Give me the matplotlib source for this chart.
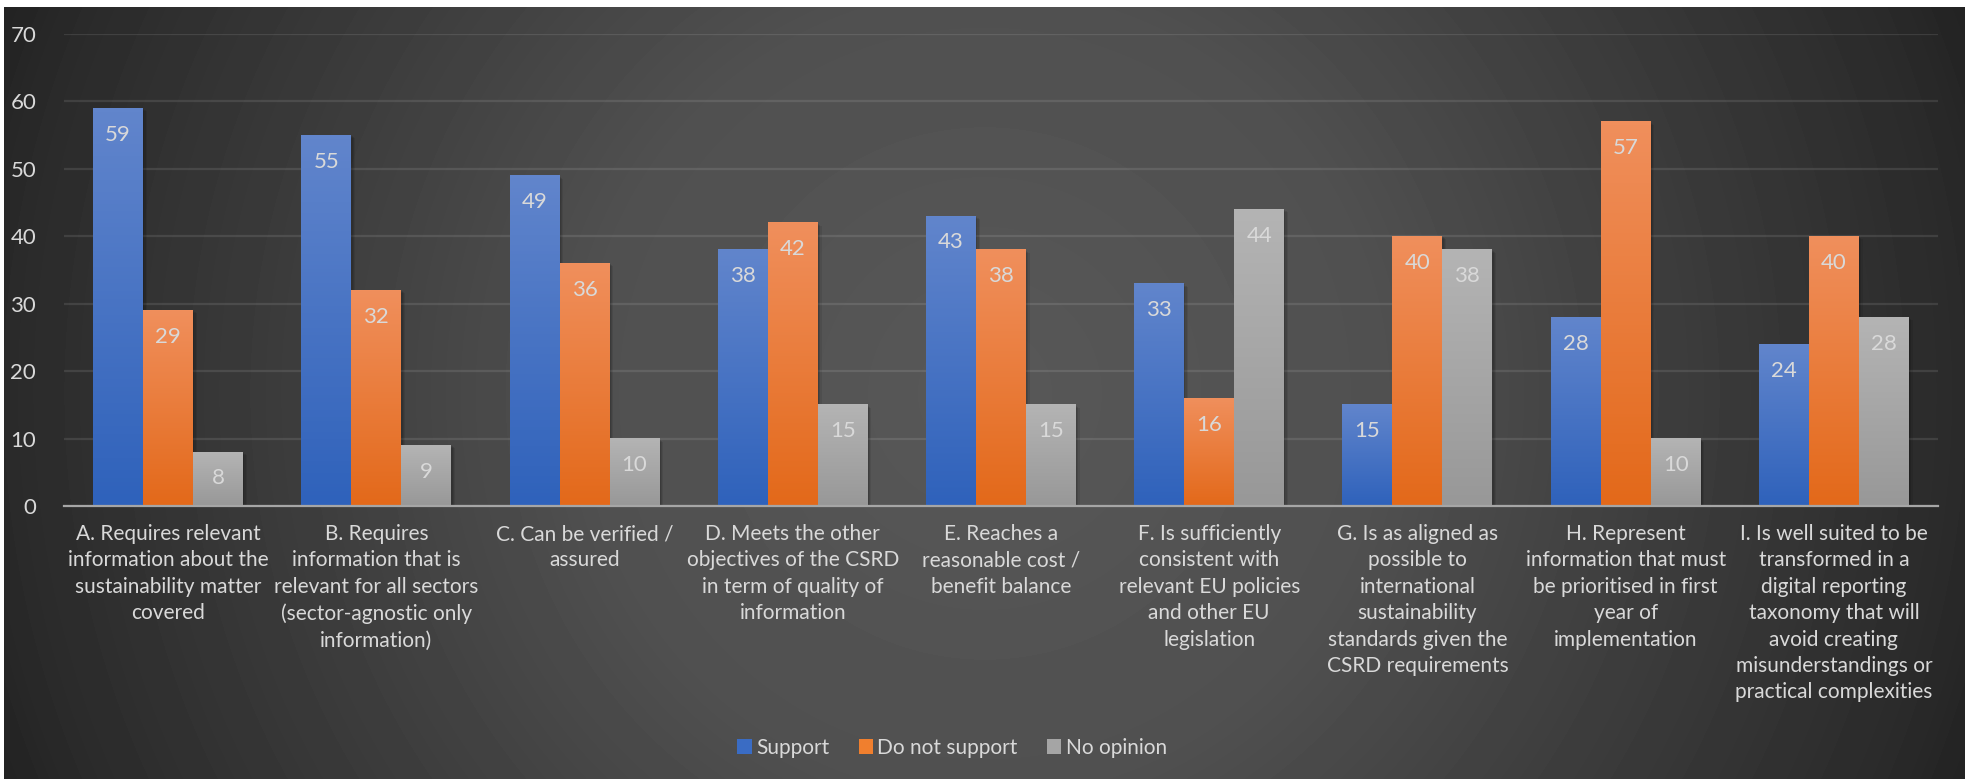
import numpy as np
import matplotlib
matplotlib.use("Agg")
import matplotlib.pyplot as plt
from matplotlib.patches import Rectangle
from matplotlib.colors import LinearSegmentedColormap

plt.rcParams['font.family'] = ['Lato', 'DejaVu Sans']

categories = [
    "A. Requires relevant\ninformation about the\nsustainability matter\ncovered",
    "B. Requires\ninformation that is\nrelevant for all sectors\n(sector-agnostic only\ninformation)",
    "C. Can be verified /\nassured",
    "D. Meets the other\nobjectives of the CSRD\nin term of quality of\ninformation",
    "E. Reaches a\nreasonable cost /\nbenefit balance",
    "F. Is sufficiently\nconsistent with\nrelevant EU policies\nand other EU\nlegislation",
    "G. Is as aligned as\npossible to\ninternational\nsustainability\nstandards given the\nCSRD requirements",
    "H. Represent\ninformation that must\nbe prioritised in first\nyear of\nimplementation",
    "I. Is well suited to be\ntransformed in a\ndigital reporting\ntaxonomy that will\navoid creating\nmisunderstandings or\npractical complexities",
]
support = [59, 55, 49, 38, 43, 33, 15, 28, 24]
do_not_support = [29, 32, 36, 42, 38, 16, 40, 57, 40]
no_opinion = [8, 9, 10, 15, 15, 44, 38, 10, 28]
series_names = ["Support", "Do not support", "No opinion"]
y_ticks = [0, 10, 20, 30, 40, 50, 60, 70]

# top colour, bottom colour for each series gradient
grad_colors = [("#6185cc", "#2f62bb"), ("#f08f5c", "#e3691a"), ("#b4b4b4", "#989898")]
legend_colors = ["#3a6cc4", "#f07f2e", "#a5a5a5"]
text_col = "#d9d9d9"
fs = 16

W, H = 1970, 779
fig = plt.figure(figsize=(W / 100, H / 100), dpi=100, facecolor="white")

# chart area background: radial gradient
bx0, bx1, by0, by1 = 4, 1965, 0, 772
bg = fig.add_axes([bx0 / W, by0 / H, (bx1 - bx0) / W, (by1 - by0) / H], zorder=0)
yy, xx = np.mgrid[0:by1 - by0, 0:bx1 - bx0]
r = np.hypot(xx - (bx1 - bx0) / 2, yy - (by1 - by0) / 2)
lvl = np.interp(r, [0, 400, 700, 980, 1100], [0x58, 0x50, 0x3c, 0x2a, 0x1e]) / 255
bg.imshow(lvl, cmap="gray", vmin=0, vmax=1, aspect="auto", interpolation="bilinear")
bg.axis("off")

ax = fig.add_axes([64 / W, (H - 506) / H, (1938 - 64) / W, (506 - 34) / H], zorder=1)
ax.set_facecolor("none")

x = np.arange(len(categories))
bw = 0.24
all_series = [support, do_not_support, no_opinion]
grad = np.linspace(1, 0, 100).reshape(-1, 1)

for i, vals in enumerate(all_series):
    cmap = LinearSegmentedColormap.from_list("g%d" % i, [grad_colors[i][1], grad_colors[i][0]])
    for j, v in enumerate(vals):
        left = x[j] + (i - 1) * bw - bw / 2
        # soft shadow
        for k, a in enumerate([0.10, 0.10, 0.08]):
            ax.add_patch(Rectangle((left + 0.006 * (k + 1), 0), bw, v - 0.15 * (k + 1),
                                   facecolor="black", alpha=a, edgecolor="none", zorder=2))
        ax.imshow(grad, cmap=cmap, vmin=0, vmax=1, aspect="auto",
                  extent=[left, left + bw, 0, v], zorder=3)
        ax.annotate(str(v), (left + bw / 2, v), xytext=(0, -19), textcoords="offset points",
                    ha="center", va="center", color=text_col, fontsize=fs, zorder=5)

ax.set_xlim(-0.5, len(categories) - 0.5)
ax.set_ylim(0, 70)
ax.set_yticks(y_ticks)
ax.set_xticks(x)
ax.set_xticklabels(categories, color=text_col, fontsize=15, linespacing=1.4, va="top")
ax.tick_params(axis="x", length=0, pad=13)
ax.tick_params(axis="y", length=0, pad=20, labelcolor=text_col, labelsize=fs)
ax.grid(axis="y", color="white", alpha=0.1, lw=1.6, zorder=1)
ax.set_axisbelow(True)
for s in ["top", "right", "left"]:
    ax.spines[s].set_visible(False)
ax.spines["bottom"].set_color("#a6a6a6")
ax.spines["bottom"].set_linewidth(1.6)
ax.spines["bottom"].set_zorder(4)

handles = [Rectangle((0, 0), 1, 1, facecolor=c, edgecolor="none") for c in legend_colors]
fig.legend(handles, series_names, loc="center", bbox_to_anchor=(952 / W, 1 - 748 / H),
           ncol=3, frameon=False, fontsize=15, labelcolor=text_col,
           handlelength=0.7, handleheight=0.7, handletextpad=0.2, columnspacing=1.4)

fig.savefig("out.png", dpi=100, facecolor="white")
